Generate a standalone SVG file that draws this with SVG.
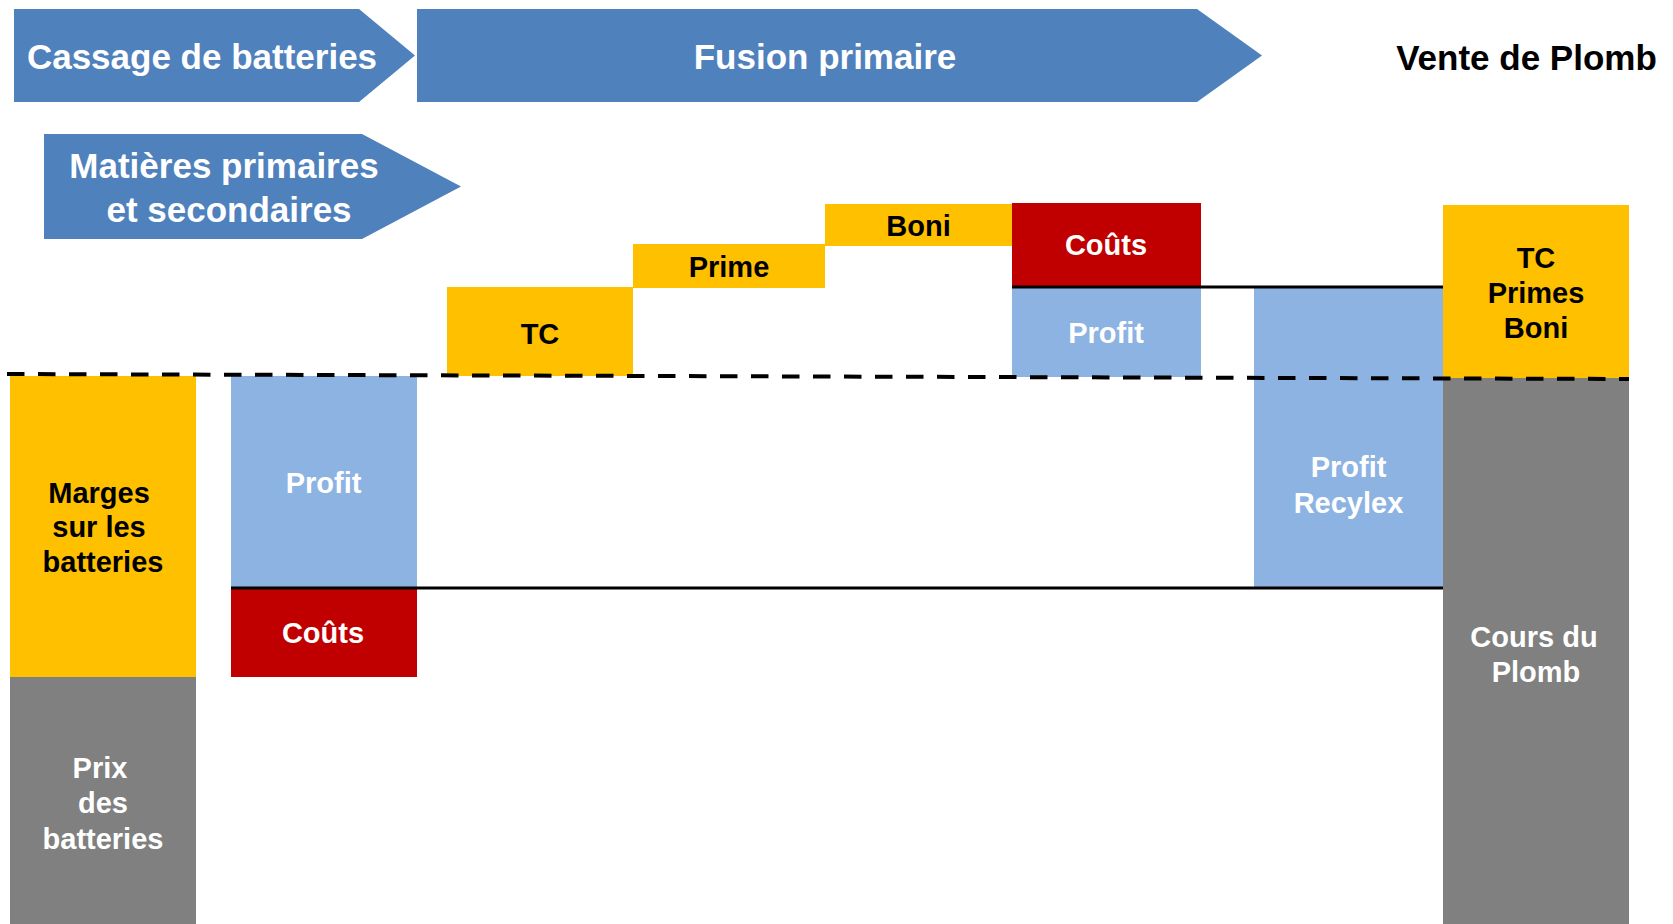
<svg xmlns="http://www.w3.org/2000/svg" width="1673" height="924" viewBox="0 0 1673 924">
<style>
text{font-family:"Liberation Sans",Arial,sans-serif;font-weight:bold;text-anchor:middle}
.h{font-size:35px}
.t{font-size:29px}
.w{fill:#FFFFFF}
.k{fill:#000000}
.arrow{fill:#4F81BD}
.yel{fill:#FFC000}
.red{fill:#C00000}
.lb{fill:#8DB3E2}
.gr{fill:#808080}
.solid{stroke:#000;stroke-width:3;fill:none}
.dash{stroke:#000;stroke-width:4;fill:none;stroke-dasharray:17.5 13.5}
</style>
<rect width="1673" height="924" fill="#FFFFFF"/>
<g id="cassage">
<polygon class="arrow" points="14,9 359,9 415,55.5 359,102 14,102"/>
<text class="h w" x="202" y="69">Cassage de batteries</text>
</g>
<g id="fusion">
<polygon class="arrow" points="417,9 1197,9 1262,55.5 1197,102 417,102"/>
<text class="h w" x="825" y="69">Fusion primaire</text>
</g>
<g id="vente">
<text class="h k" x="1526.5" y="70">Vente de Plomb</text>
</g>
<g id="matieres">
<polygon class="arrow" points="44,134 362,134 461,186.5 362,239 44,239"/>
<text class="h w" x="224" y="178">Matières primaires</text>
<text class="h w" x="229" y="222">et secondaires</text>
</g>
<g id="tc">
<rect class="yel" x="447" y="287" width="186" height="89"/>
<text class="t k" x="540" y="344">TC</text>
</g>
<g id="prime">
<rect class="yel" x="633" y="244" width="192" height="44"/>
<text class="t k" x="729" y="277">Prime</text>
</g>
<g id="boni">
<rect class="yel" x="825" y="204" width="187" height="42"/>
<text class="t k" x="918.5" y="236">Boni</text>
</g>
<g id="couts-top">
<rect class="red" x="1012" y="203" width="189" height="84"/>
<text class="t w" x="1106" y="255">Coûts</text>
</g>
<g id="profit-top">
<rect class="lb" x="1012" y="287" width="189" height="90"/>
<text class="t w" x="1106" y="343">Profit</text>
</g>
<g id="profit-recylex">
<rect class="lb" x="1254" y="288" width="189" height="300"/>
<text class="t w" x="1348.5" y="477">Profit</text>
<text class="t w" x="1348.5" y="513">Recylex</text>
</g>
<g id="tc-primes-boni">
<rect class="yel" x="1443" y="205" width="186" height="173"/>
<text class="t k" x="1536" y="268">TC</text>
<text class="t k" x="1536" y="303">Primes</text>
<text class="t k" x="1536" y="338">Boni</text>
</g>
<g id="cours-plomb">
<rect class="gr" x="1443" y="378" width="186" height="546"/>
<text class="t w" x="1534" y="647">Cours du</text>
<text class="t w" x="1536" y="682">Plomb</text>
</g>
<g id="marges">
<rect class="yel" x="10" y="376" width="186" height="301"/>
<text class="t k" x="99" y="503">Marges</text>
<text class="t k" x="99" y="537">sur les</text>
<text class="t k" x="103" y="572">batteries</text>
</g>
<g id="prix">
<rect class="gr" x="10" y="677" width="186" height="247"/>
<text class="t w" x="100" y="778">Prix</text>
<text class="t w" x="103" y="813">des</text>
<text class="t w" x="103" y="849">batteries</text>
</g>
<g id="profit-left">
<rect class="lb" x="231" y="376" width="186" height="212"/>
<text class="t w" x="323.5" y="493">Profit</text>
</g>
<g id="couts-bottom">
<rect class="red" x="231" y="588" width="186" height="89"/>
<text class="t w" x="323" y="643">Coûts</text>
</g>
<g id="connectors">
<line class="solid" x1="1012" y1="287" x2="1443" y2="287"/>
<line class="solid" x1="231" y1="588" x2="1443" y2="588"/>
<line class="dash" x1="7" y1="374" x2="1629" y2="379"/>
</g>
</svg>
